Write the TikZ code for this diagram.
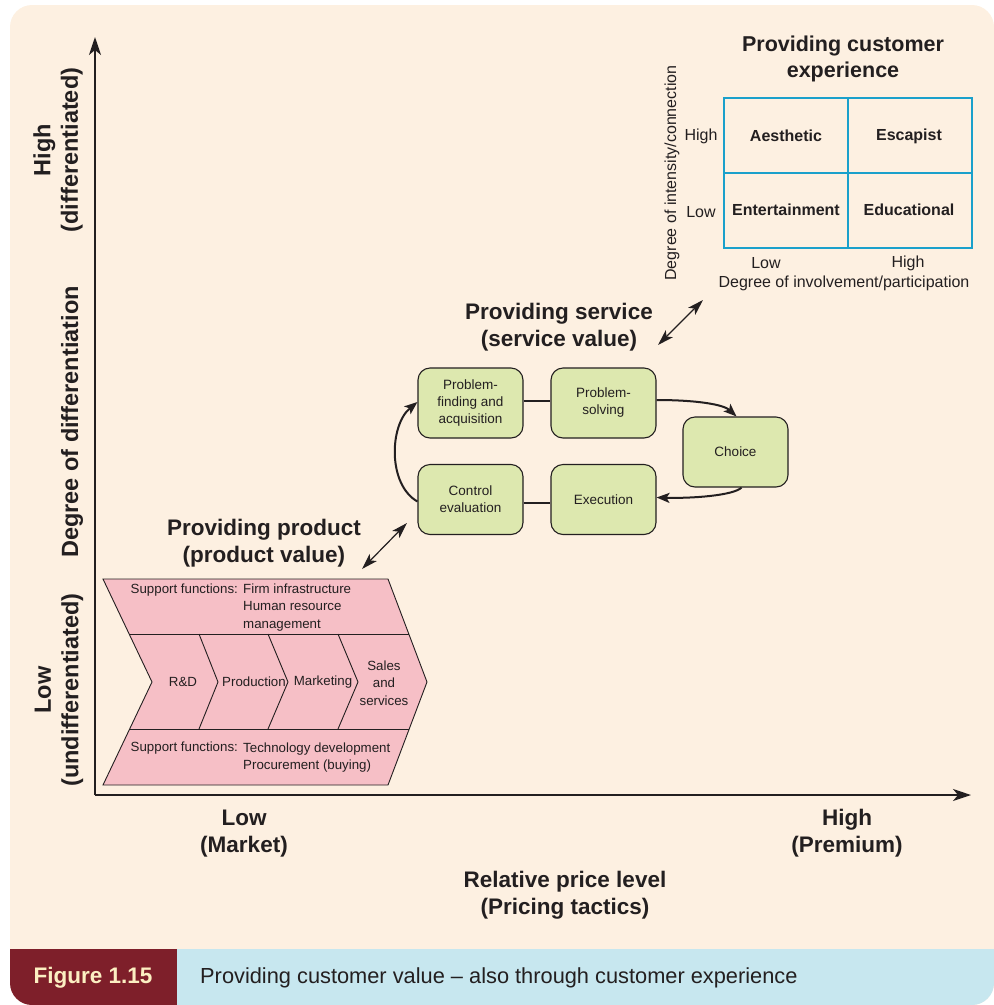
\documentclass[tikz,border=0pt]{standalone}
\usepackage{fontspec}
\setmainfont{Liberation Sans}
\usetikzlibrary{arrows.meta,calc}
\definecolor{paper}{HTML}{FDF0E1}
\definecolor{ink}{HTML}{231F20}
\definecolor{chainpink}{HTML}{F6BFC6}
\definecolor{leaf}{HTML}{DDE8AF}
\definecolor{gridcyan}{HTML}{1AA0CB}
\definecolor{capred}{HTML}{7E1F2A}
\definecolor{capblue}{HTML}{C7E7EF}
\definecolor{capfg}{HTML}{FCEFC2}
\begin{document}
\begin{tikzpicture}[x=1pt,y=-1pt,
  heading/.style={font=\fontsize{22.5}{27}\selectfont\bfseries, text=ink, align=center, inner sep=0pt},
  sideheading/.style={heading, font=\fontsize{23.5}{27.5}\selectfont\bfseries, rotate=90},
  body/.style={font=\fontsize{13.3}{17.5}\selectfont, text=ink, align=center, inner sep=0pt},
  bodyl/.style={font=\fontsize{13.3}{17.5}\selectfont, text=ink, align=left, inner sep=0pt, anchor=west},
  stage/.style={draw=ink, line width=1.1pt, fill=leaf, rounded corners=12pt,
    minimum width=105pt, minimum height=70pt, align=center, inner sep=2pt,
    font=\fontsize{13.5}{17}\selectfont, text=ink},
  cell/.style={font=\fontsize{16}{19}\selectfont\bfseries, text=ink, inner sep=0pt},
  small/.style={font=\fontsize{16}{19}\selectfont, text=ink, inner sep=0pt},
  axisarrow/.style={line width=1.3pt, draw=ink, -{Stealth[length=18pt,width=12pt,inset=5pt]}},
  flow/.style={line width=2pt, draw=ink, -{Stealth[length=13pt,width=10pt,inset=3pt]}},
  link/.style={line width=2pt, draw=ink},
  twoway/.style={line width=1.2pt, draw=ink,
    {Stealth[length=16pt,width=10pt,inset=4pt]}-{Stealth[length=16pt,width=10pt,inset=4pt]}},
]
\useasboundingbox (0,0) rectangle (994,1005);

% panel and caption bar
\fill[paper, rounded corners=22pt] (10,5) rectangle (994,1005);
\begin{scope}
  \clip[rounded corners=22pt] (10,5) rectangle (994,1005);
  \fill[capred] (10,949) rectangle (177,1005);
  \fill[capblue] (177,949) rectangle (994,1005);
\end{scope}
\node[font=\fontsize{22.5}{24}\selectfont\bfseries, text=capfg, inner sep=0pt] (fig) at (93,978) {Figure 1.15};
\node[anchor=west, inner sep=0pt, font=\fontsize{21.8}{24}\selectfont, text=ink] (cap) at (200,978)
  {Providing customer value \textendash\ also through customer experience};

% axes
\coordinate (O) at (95,795);
\coordinate (ytip) at (95,37);
\coordinate (xtip) at (971,795);
\draw[axisarrow] (O) -- (ytip);
\draw[axisarrow] (O) -- (xtip);

% axis labels
\node[sideheading] (yhigh) at (58,150) {High\\(differentiated)};
\node[sideheading] (yname) at (72,422) {Degree of differentiation};
\node[sideheading] (ylow) at (59,690) {Low\\(undifferentiated)};
\node[heading] (xlow) at (244,833.5) {Low\\(Market)};
\node[heading] (xhigh) at (847,833.5) {High\\(Premium)};
\node[heading] (xname) at (565,895) {Relative price level\\(Pricing tactics)};

% value chain
\filldraw[fill=chainpink, draw=ink, line width=0.9pt]
  (103,579) -- (388,579) -- (427,682) -- (388,785) -- (103,785) -- (152,682) -- cycle;
\draw[ink, line width=0.9pt] (129.2,634) -- (408.8,634);
\draw[ink, line width=0.9pt] (129.6,729) -- (409.2,729);
\draw[ink, line width=0.9pt] (199,634) -- (218,682) -- (199,729);
\draw[ink, line width=0.9pt] (268,634) -- (288,682) -- (268,729);
\draw[ink, line width=0.9pt] (338,634) -- (358,682) -- (338,729);
\node[bodyl] (sup1) at (130.5,590) {Support functions:};
\node[bodyl] (sup1r) at (243,607.5) {Firm infrastructure\\Human resource\\management};
\node[bodyl] (sup2) at (130.5,748) {Support functions:};
\node[bodyl] (sup2r) at (243,757.5) {Technology development\\Procurement (buying)};
\node[body] (rd) at (183,682) {R\&D};
\node[body] (prod) at (254,682) {Production};
\node[body] (mkt) at (323,682) {Marketing};
\node[body] (sales) at (384,683) {Sales\\and\\services};
\node[heading] (ttlprod) at (264,543.5) {Providing product\\(product value)};

% service cycle
\node[stage] (pf) at (470.5,403) {Problem-\\finding and\\acquisition};
\node[stage] (ps) at (603.5,403) {Problem-\\solving};
\node[stage] (ch) at (735.5,452) {Choice};
\node[stage] (ce) at (470.5,499.5) {Control\\evaluation};
\node[stage] (ex) at (603.5,499.5) {Execution};
\draw[link] ([yshift=2pt]pf.east) -- ([yshift=2pt]ps.west);
\draw[link] ([yshift=-3pt]ce.east) -- ([yshift=-3pt]ex.west);
\draw[flow] ([yshift=3pt]ps.east) .. controls ($(ps.east)+(40,-3)$) and ($(ch.north)+(-12,-12)$) .. ([xshift=1pt]ch.north);
\draw[flow] ([xshift=6pt]ch.south) .. controls ($(ch.south)+(-2,8)$) and ($(ex.east)+(35,-1)$) .. ([yshift=2pt]ex.east);
\draw[flow] ([yshift=-2pt]ce.west) .. controls ($(ce.west)+(-30,-15)$) and ($(pf.west)+(-28,22)$) .. ([yshift=1pt]pf.west);
\node[heading] (ttlserv) at (559,327) {Providing service\\(service value)};

% links between the three levels
\coordinate (pv1) at (362,569);
\coordinate (pv2) at (407,523);
\draw[twoway] (pv1) -- (pv2);
\coordinate (sv1) at (658,345);
\coordinate (sv2) at (703,300);
\draw[twoway] (sv1) -- (sv2);

% experience matrix
\node[heading, font=\fontsize{21.5}{26}\selectfont\bfseries] (ttlexp) at (843,59) {Providing customer\\experience};
\draw[gridcyan, line width=2.5pt] (724,98) rectangle (972,248);
\draw[gridcyan, line width=2.5pt] (848,98) -- (848,248);
\draw[gridcyan, line width=2.5pt] (724,173) -- (972,173);
\node[cell] (aes) at (786,136) {Aesthetic};
\node[cell] (esc) at (909,136) {Escapist};
\node[cell] (ent) at (786,210) {Entertainment};
\node[cell] (edu) at (909,210) {Educational};
\node[small] (mhigh) at (701,136) {High};
\node[small] (mlow) at (701,212) {Low};
\node[small] (blow) at (766,263) {Low};
\node[small] (bhigh) at (908,263) {High};
\node[small] (bname) at (844,283) {Degree of involvement/participation};
\node[small, rotate=90] (lname) at (672,173) {Degree of intensity/connection};
\end{tikzpicture}
\end{document}
